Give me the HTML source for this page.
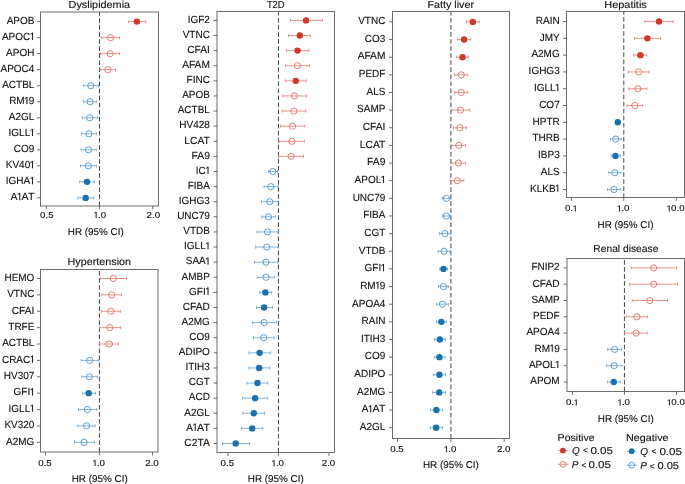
<!DOCTYPE html>
<html><head><meta charset="utf-8"><title>Forest plots</title>
<style>
html,body{margin:0;padding:0;background:#fff;}
body{width:685px;height:484px;overflow:hidden;}
svg{display:block;will-change:transform;font-family:"Liberation Sans", sans-serif;fill:#111111;}
text{fill:#111111;text-rendering:geometricPrecision;stroke:#111;stroke-width:0.12px;}
.g1{fill:#111;stroke:#111;stroke-width:24;}
</style></head><body>
<svg width="685" height="484" viewBox="0 0 685 484">
<rect width="685" height="484" fill="#fff"/>
<text x="99.35" y="7.9" text-anchor="middle" font-size="10.2" textLength="61.5" lengthAdjust="spacingAndGlyphs">Dyslipidemia</text>
<line x1="99.5" y1="12" x2="99.5" y2="206" stroke="#333333" stroke-width="0.9" stroke-dasharray="4.7 2.35" stroke-dashoffset="0.95"/>
<rect x="40.5" y="12" width="118" height="194" fill="none" stroke="#5e5e5e" stroke-width="0.9"/>
<line x1="46.3" y1="206" x2="46.3" y2="209.4" stroke="#5e5e5e" stroke-width="0.9"/>
<text x="40.03" y="217.9" font-size="8.7" textLength="13.55" lengthAdjust="spacingAndGlyphs">0.5</text>
<line x1="99.5" y1="206" x2="99.5" y2="209.4" stroke="#5e5e5e" stroke-width="0.9"/>
<path class="g1" transform="matrix(0.004758 0 0 -0.004248 93.25 217.9)" d="M515 0L515 1237L197 1010L197 1180L530 1409L696 1409L696 0Z"/>
<text x="97.96" y="217.9" font-size="8.7" textLength="8.13" lengthAdjust="spacingAndGlyphs">.0</text>
<line x1="152.8" y1="206" x2="152.8" y2="209.4" stroke="#5e5e5e" stroke-width="0.9"/>
<text x="146.53" y="217.9" font-size="8.7" textLength="13.55" lengthAdjust="spacingAndGlyphs">2.0</text>
<text x="95.8" y="235" text-anchor="middle" font-size="9.9">HR (95% CI)</text>
<line x1="37" y1="21.6" x2="40.5" y2="21.6" stroke="#5e5e5e" stroke-width="0.9"/>
<text x="6.64" y="23.9" font-size="10.3" textLength="27.76" lengthAdjust="spacingAndGlyphs">APOB</text>
<path d="M128.6 21.6H145.7M128.6 20.1V23.1M145.7 20.1V23.1" stroke="#e37a6e" stroke-width="0.8" fill="none"/>
<circle cx="136.9" cy="21.6" r="3.2" fill="#d0382a"/>
<line x1="37" y1="37.63" x2="40.5" y2="37.63" stroke="#5e5e5e" stroke-width="0.9"/>
<text x="1.94" y="39.93" font-size="10.3" textLength="28.31" lengthAdjust="spacingAndGlyphs">APOC</text>
<path class="g1" transform="matrix(0.004878 0 0 -0.005029 29.57 39.93)" d="M515 0L515 1237L197 1010L197 1180L530 1409L696 1409L696 0Z"/>
<path d="M101.6 37.63H119.6M101.6 36.13V39.13M119.6 36.13V39.13" stroke="#e37a6e" stroke-width="0.8" fill="none"/>
<circle cx="110.5" cy="37.63" r="3.1" fill="none" stroke="#e06a5d" stroke-width="0.85"/>
<line x1="37" y1="53.65" x2="40.5" y2="53.65" stroke="#5e5e5e" stroke-width="0.9"/>
<text x="6.09" y="55.95" font-size="10.3" textLength="28.31" lengthAdjust="spacingAndGlyphs">APOH</text>
<path d="M100.6 53.65H119.6M100.6 52.15V55.15M119.6 52.15V55.15" stroke="#e37a6e" stroke-width="0.8" fill="none"/>
<circle cx="110.1" cy="53.65" r="3.1" fill="none" stroke="#e06a5d" stroke-width="0.85"/>
<line x1="37" y1="69.68" x2="40.5" y2="69.68" stroke="#5e5e5e" stroke-width="0.9"/>
<text x="0.53" y="71.98" font-size="10.3" textLength="33.87" lengthAdjust="spacingAndGlyphs">APOC4</text>
<path d="M100.1 69.68H115.5M100.1 68.18V71.18M115.5 68.18V71.18" stroke="#e37a6e" stroke-width="0.8" fill="none"/>
<circle cx="107.9" cy="69.68" r="3.1" fill="none" stroke="#e06a5d" stroke-width="0.85"/>
<line x1="37" y1="85.71" x2="40.5" y2="85.71" stroke="#5e5e5e" stroke-width="0.9"/>
<text x="2.2" y="88.01" font-size="10.3" textLength="32.2" lengthAdjust="spacingAndGlyphs">ACTBL</text>
<path d="M83.3 85.71H98.5M83.3 84.21V87.21M98.5 84.21V87.21" stroke="#62a2d3" stroke-width="0.8" fill="none"/>
<circle cx="90.8" cy="85.71" r="3.1" fill="none" stroke="#4290c8" stroke-width="0.85"/>
<line x1="37" y1="101.74" x2="40.5" y2="101.74" stroke="#5e5e5e" stroke-width="0.9"/>
<text x="9.16" y="104.04" font-size="10.3" textLength="15.54" lengthAdjust="spacingAndGlyphs">RM</text>
<path class="g1" transform="matrix(0.004878 0 0 -0.005029 24.01 104.04)" d="M515 0L515 1237L197 1010L197 1180L530 1409L696 1409L696 0Z"/>
<text x="28.84" y="104.04" font-size="10.3" textLength="5.56" lengthAdjust="spacingAndGlyphs">9</text>
<path d="M83.3 101.74H96.4M83.3 100.24V103.24M96.4 100.24V103.24" stroke="#62a2d3" stroke-width="0.8" fill="none"/>
<circle cx="90.1" cy="101.74" r="3.1" fill="none" stroke="#4290c8" stroke-width="0.85"/>
<line x1="37" y1="117.76" x2="40.5" y2="117.76" stroke="#5e5e5e" stroke-width="0.9"/>
<text x="8.85" y="120.06" font-size="10.3" textLength="25.55" lengthAdjust="spacingAndGlyphs">A2GL</text>
<path d="M82.4 117.76H97.7M82.4 116.26V119.26M97.7 116.26V119.26" stroke="#62a2d3" stroke-width="0.8" fill="none"/>
<circle cx="89.7" cy="117.76" r="3.1" fill="none" stroke="#4290c8" stroke-width="0.85"/>
<line x1="37" y1="133.79" x2="40.5" y2="133.79" stroke="#5e5e5e" stroke-width="0.9"/>
<text x="8.59" y="136.09" font-size="10.3" textLength="21.66" lengthAdjust="spacingAndGlyphs">IGLL</text>
<path class="g1" transform="matrix(0.004878 0 0 -0.005029 29.57 136.09)" d="M515 0L515 1237L197 1010L197 1180L530 1409L696 1409L696 0Z"/>
<path d="M81.5 133.79H96.4M81.5 132.29V135.29M96.4 132.29V135.29" stroke="#62a2d3" stroke-width="0.8" fill="none"/>
<circle cx="89" cy="133.79" r="3.1" fill="none" stroke="#4290c8" stroke-width="0.85"/>
<line x1="37" y1="149.82" x2="40.5" y2="149.82" stroke="#5e5e5e" stroke-width="0.9"/>
<text x="13.86" y="152.12" font-size="10.3" textLength="20.54" lengthAdjust="spacingAndGlyphs">CO9</text>
<path d="M81.2 149.82H96.3M81.2 148.32V151.32M96.3 148.32V151.32" stroke="#62a2d3" stroke-width="0.8" fill="none"/>
<circle cx="88.5" cy="149.82" r="3.1" fill="none" stroke="#4290c8" stroke-width="0.85"/>
<line x1="37" y1="165.85" x2="40.5" y2="165.85" stroke="#5e5e5e" stroke-width="0.9"/>
<text x="5.81" y="168.15" font-size="10.3" textLength="24.44" lengthAdjust="spacingAndGlyphs">KV40</text>
<path class="g1" transform="matrix(0.004878 0 0 -0.005029 29.57 168.15)" d="M515 0L515 1237L197 1010L197 1180L530 1409L696 1409L696 0Z"/>
<path d="M80.5 165.85H96.4M80.5 164.35V167.35M96.4 164.35V167.35" stroke="#62a2d3" stroke-width="0.8" fill="none"/>
<circle cx="88.3" cy="165.85" r="3.1" fill="none" stroke="#4290c8" stroke-width="0.85"/>
<line x1="37" y1="181.87" x2="40.5" y2="181.87" stroke="#5e5e5e" stroke-width="0.9"/>
<text x="5.83" y="184.17" font-size="10.3" textLength="24.43" lengthAdjust="spacingAndGlyphs">IGHA</text>
<path class="g1" transform="matrix(0.004878 0 0 -0.005029 29.57 184.17)" d="M515 0L515 1237L197 1010L197 1180L530 1409L696 1409L696 0Z"/>
<path d="M79.6 181.87H94.6M79.6 180.37V183.37M94.6 180.37V183.37" stroke="#62a2d3" stroke-width="0.8" fill="none"/>
<circle cx="87" cy="181.87" r="3.2" fill="#1b71ae"/>
<line x1="37" y1="197.9" x2="40.5" y2="197.9" stroke="#5e5e5e" stroke-width="0.9"/>
<text x="10.82" y="200.2" font-size="10.3" textLength="6.66" lengthAdjust="spacingAndGlyphs">A</text>
<path class="g1" transform="matrix(0.004878 0 0 -0.005029 16.8 200.2)" d="M515 0L515 1237L197 1010L197 1180L530 1409L696 1409L696 0Z"/>
<text x="21.63" y="200.2" font-size="10.3" textLength="12.77" lengthAdjust="spacingAndGlyphs">AT</text>
<path d="M77.7 197.9H93.9M77.7 196.4V199.4M93.9 196.4V199.4" stroke="#62a2d3" stroke-width="0.8" fill="none"/>
<circle cx="85.7" cy="197.9" r="3.2" fill="#1b71ae"/>
<text x="99.3" y="264.9" text-anchor="middle" font-size="10.2" textLength="63.6" lengthAdjust="spacingAndGlyphs">Hypertension</text>
<line x1="99.45" y1="269.5" x2="99.45" y2="452" stroke="#333333" stroke-width="0.9" stroke-dasharray="4.7 2.35" stroke-dashoffset="5.55"/>
<rect x="40.5" y="269.5" width="117.5" height="182.5" fill="none" stroke="#5e5e5e" stroke-width="0.9"/>
<line x1="45.5" y1="452" x2="45.5" y2="455.4" stroke="#5e5e5e" stroke-width="0.9"/>
<text x="38.23" y="466" font-size="8.7" textLength="13.55" lengthAdjust="spacingAndGlyphs">0.5</text>
<line x1="99.45" y1="452" x2="99.45" y2="455.4" stroke="#5e5e5e" stroke-width="0.9"/>
<path class="g1" transform="matrix(0.004758 0 0 -0.004248 92.2 466)" d="M515 0L515 1237L197 1010L197 1180L530 1409L696 1409L696 0Z"/>
<text x="96.91" y="466" font-size="8.7" textLength="8.13" lengthAdjust="spacingAndGlyphs">.0</text>
<line x1="152.5" y1="452" x2="152.5" y2="455.4" stroke="#5e5e5e" stroke-width="0.9"/>
<text x="145.23" y="466" font-size="8.7" textLength="13.55" lengthAdjust="spacingAndGlyphs">2.0</text>
<text x="99.7" y="481.6" text-anchor="middle" font-size="9.9">HR (95% CI)</text>
<line x1="37" y1="278.5" x2="40.5" y2="278.5" stroke="#5e5e5e" stroke-width="0.9"/>
<text x="4.43" y="280.8" font-size="10.3" textLength="29.97" lengthAdjust="spacingAndGlyphs">HEMO</text>
<path d="M100.3 278.5H126.6M100.3 277V280M126.6 277V280" stroke="#e37a6e" stroke-width="0.8" fill="none"/>
<circle cx="113.3" cy="278.5" r="3.1" fill="none" stroke="#e06a5d" stroke-width="0.85"/>
<line x1="37" y1="294.88" x2="40.5" y2="294.88" stroke="#5e5e5e" stroke-width="0.9"/>
<text x="7.2" y="297.18" font-size="10.3" textLength="27.2" lengthAdjust="spacingAndGlyphs">VTNC</text>
<path d="M101.7 294.88H121.4M101.7 293.38V296.38M121.4 293.38V296.38" stroke="#e37a6e" stroke-width="0.8" fill="none"/>
<circle cx="111.6" cy="294.88" r="3.1" fill="none" stroke="#e06a5d" stroke-width="0.85"/>
<line x1="37" y1="311.26" x2="40.5" y2="311.26" stroke="#5e5e5e" stroke-width="0.9"/>
<text x="11.64" y="313.56" font-size="10.3" textLength="22.76" lengthAdjust="spacingAndGlyphs">CFAI</text>
<path d="M101.3 311.26H120.6M101.3 309.76V312.76M120.6 309.76V312.76" stroke="#e37a6e" stroke-width="0.8" fill="none"/>
<circle cx="110.9" cy="311.26" r="3.1" fill="none" stroke="#e06a5d" stroke-width="0.85"/>
<line x1="37" y1="327.64" x2="40.5" y2="327.64" stroke="#5e5e5e" stroke-width="0.9"/>
<text x="8.32" y="329.94" font-size="10.3" textLength="26.08" lengthAdjust="spacingAndGlyphs">TRFE</text>
<path d="M99.6 327.64H120.6M99.6 326.14V329.14M120.6 326.14V329.14" stroke="#e37a6e" stroke-width="0.8" fill="none"/>
<circle cx="109.7" cy="327.64" r="3.1" fill="none" stroke="#e06a5d" stroke-width="0.85"/>
<line x1="37" y1="344.02" x2="40.5" y2="344.02" stroke="#5e5e5e" stroke-width="0.9"/>
<text x="2.2" y="346.32" font-size="10.3" textLength="32.2" lengthAdjust="spacingAndGlyphs">ACTBL</text>
<path d="M99.5 344.02H118.5M99.5 342.52V345.52M118.5 342.52V345.52" stroke="#e37a6e" stroke-width="0.8" fill="none"/>
<circle cx="109.3" cy="344.02" r="3.1" fill="none" stroke="#e06a5d" stroke-width="0.85"/>
<line x1="37" y1="360.4" x2="40.5" y2="360.4" stroke="#5e5e5e" stroke-width="0.9"/>
<text x="1.94" y="362.7" font-size="10.3" textLength="28.31" lengthAdjust="spacingAndGlyphs">CRAC</text>
<path class="g1" transform="matrix(0.004878 0 0 -0.005029 29.57 362.7)" d="M515 0L515 1237L197 1010L197 1180L530 1409L696 1409L696 0Z"/>
<path d="M81.2 360.4H98.8M81.2 358.9V361.9M98.8 358.9V361.9" stroke="#62a2d3" stroke-width="0.8" fill="none"/>
<circle cx="89.7" cy="360.4" r="3.1" fill="none" stroke="#4290c8" stroke-width="0.85"/>
<line x1="37" y1="376.78" x2="40.5" y2="376.78" stroke="#5e5e5e" stroke-width="0.9"/>
<text x="3.85" y="379.08" font-size="10.3" textLength="30.55" lengthAdjust="spacingAndGlyphs">HV307</text>
<path d="M81.9 376.78H97.4M81.9 375.28V378.28M97.4 375.28V378.28" stroke="#62a2d3" stroke-width="0.8" fill="none"/>
<circle cx="89.4" cy="376.78" r="3.1" fill="none" stroke="#4290c8" stroke-width="0.85"/>
<line x1="37" y1="393.16" x2="40.5" y2="393.16" stroke="#5e5e5e" stroke-width="0.9"/>
<text x="13.6" y="395.46" font-size="10.3" textLength="16.65" lengthAdjust="spacingAndGlyphs">GFI</text>
<path class="g1" transform="matrix(0.004878 0 0 -0.005029 29.57 395.46)" d="M515 0L515 1237L197 1010L197 1180L530 1409L696 1409L696 0Z"/>
<path d="M82.4 393.16H95.6M82.4 391.66V394.66M95.6 391.66V394.66" stroke="#62a2d3" stroke-width="0.8" fill="none"/>
<circle cx="88.7" cy="393.16" r="3.2" fill="#1b71ae"/>
<line x1="37" y1="409.54" x2="40.5" y2="409.54" stroke="#5e5e5e" stroke-width="0.9"/>
<text x="8.59" y="411.84" font-size="10.3" textLength="21.66" lengthAdjust="spacingAndGlyphs">IGLL</text>
<path class="g1" transform="matrix(0.004878 0 0 -0.005029 29.57 411.84)" d="M515 0L515 1237L197 1010L197 1180L530 1409L696 1409L696 0Z"/>
<path d="M78.5 409.54H96.7M78.5 408.04V411.04M96.7 408.04V411.04" stroke="#62a2d3" stroke-width="0.8" fill="none"/>
<circle cx="87.4" cy="409.54" r="3.1" fill="none" stroke="#4290c8" stroke-width="0.85"/>
<line x1="37" y1="425.92" x2="40.5" y2="425.92" stroke="#5e5e5e" stroke-width="0.9"/>
<text x="4.4" y="428.22" font-size="10.3" textLength="30" lengthAdjust="spacingAndGlyphs">KV320</text>
<path d="M77.7 425.92H95.1M77.7 424.42V427.42M95.1 424.42V427.42" stroke="#62a2d3" stroke-width="0.8" fill="none"/>
<circle cx="86.5" cy="425.92" r="3.1" fill="none" stroke="#4290c8" stroke-width="0.85"/>
<line x1="37" y1="442.3" x2="40.5" y2="442.3" stroke="#5e5e5e" stroke-width="0.9"/>
<text x="6.09" y="444.6" font-size="10.3" textLength="28.31" lengthAdjust="spacingAndGlyphs">A2MG</text>
<path d="M74.5 442.3H94.4M74.5 440.8V443.8M94.4 440.8V443.8" stroke="#62a2d3" stroke-width="0.8" fill="none"/>
<circle cx="84.1" cy="442.3" r="3.1" fill="none" stroke="#4290c8" stroke-width="0.85"/>
<text x="275.75" y="7.9" text-anchor="middle" font-size="10.2" textLength="17.7" lengthAdjust="spacingAndGlyphs">T2D</text>
<line x1="278.45" y1="11.5" x2="278.45" y2="452.5" stroke="#333333" stroke-width="0.9" stroke-dasharray="4.7 2.35" stroke-dashoffset="0.65"/>
<rect x="217" y="11.5" width="117.5" height="441" fill="none" stroke="#5e5e5e" stroke-width="0.9"/>
<line x1="227.9" y1="452.5" x2="227.9" y2="455.9" stroke="#5e5e5e" stroke-width="0.9"/>
<text x="220.63" y="466.2" font-size="8.7" textLength="13.55" lengthAdjust="spacingAndGlyphs">0.5</text>
<line x1="278.45" y1="452.5" x2="278.45" y2="455.9" stroke="#5e5e5e" stroke-width="0.9"/>
<path class="g1" transform="matrix(0.004758 0 0 -0.004248 271.2 466.2)" d="M515 0L515 1237L197 1010L197 1180L530 1409L696 1409L696 0Z"/>
<text x="275.91" y="466.2" font-size="8.7" textLength="8.13" lengthAdjust="spacingAndGlyphs">.0</text>
<line x1="329" y1="452.5" x2="329" y2="455.9" stroke="#5e5e5e" stroke-width="0.9"/>
<text x="321.73" y="466.2" font-size="8.7" textLength="13.55" lengthAdjust="spacingAndGlyphs">2.0</text>
<text x="275.8" y="481.7" text-anchor="middle" font-size="9.9">HR (95% CI)</text>
<line x1="213.5" y1="20.4" x2="217" y2="20.4" stroke="#5e5e5e" stroke-width="0.9"/>
<text x="187.69" y="22.7" font-size="10.3" textLength="22.21" lengthAdjust="spacingAndGlyphs">IGF2</text>
<path d="M290.4 20.4H322.4M290.4 18.9V21.9M322.4 18.9V21.9" stroke="#e37a6e" stroke-width="0.8" fill="none"/>
<circle cx="306" cy="20.4" r="3.2" fill="#d0382a"/>
<line x1="213.5" y1="35.51" x2="217" y2="35.51" stroke="#5e5e5e" stroke-width="0.9"/>
<text x="182.7" y="37.81" font-size="10.3" textLength="27.2" lengthAdjust="spacingAndGlyphs">VTNC</text>
<path d="M288.5 35.51H310.3M288.5 34.01V37.01M310.3 34.01V37.01" stroke="#e37a6e" stroke-width="0.8" fill="none"/>
<circle cx="299.8" cy="35.51" r="3.2" fill="#d0382a"/>
<line x1="213.5" y1="50.62" x2="217" y2="50.62" stroke="#5e5e5e" stroke-width="0.9"/>
<text x="187.14" y="52.92" font-size="10.3" textLength="22.76" lengthAdjust="spacingAndGlyphs">CFAI</text>
<path d="M286.4 50.62H308.7M286.4 49.12V52.12M308.7 49.12V52.12" stroke="#e37a6e" stroke-width="0.8" fill="none"/>
<circle cx="297.5" cy="50.62" r="3.2" fill="#d0382a"/>
<line x1="213.5" y1="65.73" x2="217" y2="65.73" stroke="#5e5e5e" stroke-width="0.9"/>
<text x="182.15" y="68.03" font-size="10.3" textLength="27.75" lengthAdjust="spacingAndGlyphs">AFAM</text>
<path d="M285.4 65.73H309.6M285.4 64.23V67.23M309.6 64.23V67.23" stroke="#e37a6e" stroke-width="0.8" fill="none"/>
<circle cx="297.5" cy="65.73" r="3.1" fill="none" stroke="#e06a5d" stroke-width="0.85"/>
<line x1="213.5" y1="80.84" x2="217" y2="80.84" stroke="#5e5e5e" stroke-width="0.9"/>
<text x="186.59" y="83.14" font-size="10.3" textLength="23.31" lengthAdjust="spacingAndGlyphs">FINC</text>
<path d="M285.4 80.84H306.3M285.4 79.34V82.34M306.3 79.34V82.34" stroke="#e37a6e" stroke-width="0.8" fill="none"/>
<circle cx="295.8" cy="80.84" r="3.2" fill="#d0382a"/>
<line x1="213.5" y1="95.95" x2="217" y2="95.95" stroke="#5e5e5e" stroke-width="0.9"/>
<text x="182.14" y="98.25" font-size="10.3" textLength="27.76" lengthAdjust="spacingAndGlyphs">APOB</text>
<path d="M282.8 95.95H306.5M282.8 94.45V97.45M306.5 94.45V97.45" stroke="#e37a6e" stroke-width="0.8" fill="none"/>
<circle cx="294.4" cy="95.95" r="3.1" fill="none" stroke="#e06a5d" stroke-width="0.85"/>
<line x1="213.5" y1="111.06" x2="217" y2="111.06" stroke="#5e5e5e" stroke-width="0.9"/>
<text x="177.7" y="113.36" font-size="10.3" textLength="32.2" lengthAdjust="spacingAndGlyphs">ACTBL</text>
<path d="M282.4 111.06H305.7M282.4 109.56V112.56M305.7 109.56V112.56" stroke="#e37a6e" stroke-width="0.8" fill="none"/>
<circle cx="293.9" cy="111.06" r="3.1" fill="none" stroke="#e06a5d" stroke-width="0.85"/>
<line x1="213.5" y1="126.18" x2="217" y2="126.18" stroke="#5e5e5e" stroke-width="0.9"/>
<text x="179.35" y="128.48" font-size="10.3" textLength="30.55" lengthAdjust="spacingAndGlyphs">HV428</text>
<path d="M280.5 126.18H304.9M280.5 124.68V127.68M304.9 124.68V127.68" stroke="#e37a6e" stroke-width="0.8" fill="none"/>
<circle cx="292.6" cy="126.18" r="3.1" fill="none" stroke="#e06a5d" stroke-width="0.85"/>
<line x1="213.5" y1="141.29" x2="217" y2="141.29" stroke="#5e5e5e" stroke-width="0.9"/>
<text x="184.36" y="143.59" font-size="10.3" textLength="25.54" lengthAdjust="spacingAndGlyphs">LCAT</text>
<path d="M278.9 141.29H304.4M278.9 139.79V142.79M304.4 139.79V142.79" stroke="#e37a6e" stroke-width="0.8" fill="none"/>
<circle cx="291.9" cy="141.29" r="3.1" fill="none" stroke="#e06a5d" stroke-width="0.85"/>
<line x1="213.5" y1="156.4" x2="217" y2="156.4" stroke="#5e5e5e" stroke-width="0.9"/>
<text x="191.58" y="158.7" font-size="10.3" textLength="18.32" lengthAdjust="spacingAndGlyphs">FA9</text>
<path d="M278.5 156.4H303.5M278.5 154.9V157.9M303.5 154.9V157.9" stroke="#e37a6e" stroke-width="0.8" fill="none"/>
<circle cx="291.1" cy="156.4" r="3.1" fill="none" stroke="#e06a5d" stroke-width="0.85"/>
<line x1="213.5" y1="171.51" x2="217" y2="171.51" stroke="#5e5e5e" stroke-width="0.9"/>
<text x="195.76" y="173.81" font-size="10.3" textLength="9.99" lengthAdjust="spacingAndGlyphs">IC</text>
<path class="g1" transform="matrix(0.004878 0 0 -0.005029 205.07 173.81)" d="M515 0L515 1237L197 1010L197 1180L530 1409L696 1409L696 0Z"/>
<path d="M268.5 171.51H277.5M268.5 170.01V173.01M277.5 170.01V173.01" stroke="#62a2d3" stroke-width="0.8" fill="none"/>
<circle cx="272.8" cy="171.51" r="3.1" fill="none" stroke="#4290c8" stroke-width="0.85"/>
<line x1="213.5" y1="186.62" x2="217" y2="186.62" stroke="#5e5e5e" stroke-width="0.9"/>
<text x="187.69" y="188.92" font-size="10.3" textLength="22.21" lengthAdjust="spacingAndGlyphs">FIBA</text>
<path d="M264.1 186.62H278.2M264.1 185.12V188.12M278.2 185.12V188.12" stroke="#62a2d3" stroke-width="0.8" fill="none"/>
<circle cx="270.8" cy="186.62" r="3.1" fill="none" stroke="#4290c8" stroke-width="0.85"/>
<line x1="213.5" y1="201.73" x2="217" y2="201.73" stroke="#5e5e5e" stroke-width="0.9"/>
<text x="178.81" y="204.03" font-size="10.3" textLength="31.09" lengthAdjust="spacingAndGlyphs">IGHG3</text>
<path d="M261.6 201.73H278.3M261.6 200.23V203.23M278.3 200.23V203.23" stroke="#62a2d3" stroke-width="0.8" fill="none"/>
<circle cx="269.8" cy="201.73" r="3.1" fill="none" stroke="#4290c8" stroke-width="0.85"/>
<line x1="213.5" y1="216.84" x2="217" y2="216.84" stroke="#5e5e5e" stroke-width="0.9"/>
<text x="177.14" y="219.14" font-size="10.3" textLength="32.76" lengthAdjust="spacingAndGlyphs">UNC79</text>
<path d="M261.8 216.84H275.4M261.8 215.34V218.34M275.4 215.34V218.34" stroke="#62a2d3" stroke-width="0.8" fill="none"/>
<circle cx="268.4" cy="216.84" r="3.1" fill="none" stroke="#4290c8" stroke-width="0.85"/>
<line x1="213.5" y1="231.95" x2="217" y2="231.95" stroke="#5e5e5e" stroke-width="0.9"/>
<text x="183.25" y="234.25" font-size="10.3" textLength="26.65" lengthAdjust="spacingAndGlyphs">VTDB</text>
<path d="M257.2 231.95H278.3M257.2 230.45V233.45M278.3 230.45V233.45" stroke="#62a2d3" stroke-width="0.8" fill="none"/>
<circle cx="267.5" cy="231.95" r="3.1" fill="none" stroke="#4290c8" stroke-width="0.85"/>
<line x1="213.5" y1="247.06" x2="217" y2="247.06" stroke="#5e5e5e" stroke-width="0.9"/>
<text x="184.09" y="249.36" font-size="10.3" textLength="21.66" lengthAdjust="spacingAndGlyphs">IGLL</text>
<path class="g1" transform="matrix(0.004878 0 0 -0.005029 205.07 249.36)" d="M515 0L515 1237L197 1010L197 1180L530 1409L696 1409L696 0Z"/>
<path d="M255.6 247.06H278.3M255.6 245.56V248.56M278.3 245.56V248.56" stroke="#62a2d3" stroke-width="0.8" fill="none"/>
<circle cx="266.8" cy="247.06" r="3.1" fill="none" stroke="#4290c8" stroke-width="0.85"/>
<line x1="213.5" y1="262.17" x2="217" y2="262.17" stroke="#5e5e5e" stroke-width="0.9"/>
<text x="185.76" y="264.47" font-size="10.3" textLength="19.99" lengthAdjust="spacingAndGlyphs">SAA</text>
<path class="g1" transform="matrix(0.004878 0 0 -0.005029 205.07 264.47)" d="M515 0L515 1237L197 1010L197 1180L530 1409L696 1409L696 0Z"/>
<path d="M254.5 262.17H277.7M254.5 260.67V263.67M277.7 260.67V263.67" stroke="#62a2d3" stroke-width="0.8" fill="none"/>
<circle cx="266" cy="262.17" r="3.1" fill="none" stroke="#4290c8" stroke-width="0.85"/>
<line x1="213.5" y1="277.28" x2="217" y2="277.28" stroke="#5e5e5e" stroke-width="0.9"/>
<text x="181.59" y="279.58" font-size="10.3" textLength="28.31" lengthAdjust="spacingAndGlyphs">AMBP</text>
<path d="M257.2 277.28H274.6M257.2 275.78V278.78M274.6 275.78V278.78" stroke="#62a2d3" stroke-width="0.8" fill="none"/>
<circle cx="266" cy="277.28" r="3.1" fill="none" stroke="#4290c8" stroke-width="0.85"/>
<line x1="213.5" y1="292.39" x2="217" y2="292.39" stroke="#5e5e5e" stroke-width="0.9"/>
<text x="189.1" y="294.69" font-size="10.3" textLength="16.65" lengthAdjust="spacingAndGlyphs">GFI</text>
<path class="g1" transform="matrix(0.004878 0 0 -0.005029 205.07 294.69)" d="M515 0L515 1237L197 1010L197 1180L530 1409L696 1409L696 0Z"/>
<path d="M259.6 292.39H271.7M259.6 290.89V293.89M271.7 290.89V293.89" stroke="#62a2d3" stroke-width="0.8" fill="none"/>
<circle cx="265.4" cy="292.39" r="3.2" fill="#1b71ae"/>
<line x1="213.5" y1="307.5" x2="217" y2="307.5" stroke="#5e5e5e" stroke-width="0.9"/>
<text x="182.7" y="309.8" font-size="10.3" textLength="27.2" lengthAdjust="spacingAndGlyphs">CFAD</text>
<path d="M256.5 307.5H272.4M256.5 306V309M272.4 306V309" stroke="#62a2d3" stroke-width="0.8" fill="none"/>
<circle cx="264.1" cy="307.5" r="3.2" fill="#1b71ae"/>
<line x1="213.5" y1="322.61" x2="217" y2="322.61" stroke="#5e5e5e" stroke-width="0.9"/>
<text x="181.59" y="324.91" font-size="10.3" textLength="28.31" lengthAdjust="spacingAndGlyphs">A2MG</text>
<path d="M252.6 322.61H276.4M252.6 321.11V324.11M276.4 321.11V324.11" stroke="#62a2d3" stroke-width="0.8" fill="none"/>
<circle cx="264.2" cy="322.61" r="3.1" fill="none" stroke="#4290c8" stroke-width="0.85"/>
<line x1="213.5" y1="337.72" x2="217" y2="337.72" stroke="#5e5e5e" stroke-width="0.9"/>
<text x="189.36" y="340.02" font-size="10.3" textLength="20.54" lengthAdjust="spacingAndGlyphs">CO9</text>
<path d="M253.5 337.72H274.1M253.5 336.22V339.22M274.1 336.22V339.22" stroke="#62a2d3" stroke-width="0.8" fill="none"/>
<circle cx="263.8" cy="337.72" r="3.1" fill="none" stroke="#4290c8" stroke-width="0.85"/>
<line x1="213.5" y1="352.84" x2="217" y2="352.84" stroke="#5e5e5e" stroke-width="0.9"/>
<text x="178.81" y="355.14" font-size="10.3" textLength="31.09" lengthAdjust="spacingAndGlyphs">ADIPO</text>
<path d="M249 352.84H270.7M249 351.34V354.34M270.7 351.34V354.34" stroke="#62a2d3" stroke-width="0.8" fill="none"/>
<circle cx="259.6" cy="352.84" r="3.2" fill="#1b71ae"/>
<line x1="213.5" y1="367.95" x2="217" y2="367.95" stroke="#5e5e5e" stroke-width="0.9"/>
<text x="185.47" y="370.25" font-size="10.3" textLength="24.43" lengthAdjust="spacingAndGlyphs">ITIH3</text>
<path d="M249 367.95H269.8M249 366.45V369.45M269.8 366.45V369.45" stroke="#62a2d3" stroke-width="0.8" fill="none"/>
<circle cx="259.2" cy="367.95" r="3.2" fill="#1b71ae"/>
<line x1="213.5" y1="383.06" x2="217" y2="383.06" stroke="#5e5e5e" stroke-width="0.9"/>
<text x="188.81" y="385.36" font-size="10.3" textLength="21.09" lengthAdjust="spacingAndGlyphs">CGT</text>
<path d="M246.9 383.06H267.7M246.9 381.56V384.56M267.7 381.56V384.56" stroke="#62a2d3" stroke-width="0.8" fill="none"/>
<circle cx="257.4" cy="383.06" r="3.2" fill="#1b71ae"/>
<line x1="213.5" y1="398.17" x2="217" y2="398.17" stroke="#5e5e5e" stroke-width="0.9"/>
<text x="188.81" y="400.47" font-size="10.3" textLength="21.09" lengthAdjust="spacingAndGlyphs">ACD</text>
<path d="M242.6 398.17H267.7M242.6 396.67V399.67M267.7 396.67V399.67" stroke="#62a2d3" stroke-width="0.8" fill="none"/>
<circle cx="255.1" cy="398.17" r="3.2" fill="#1b71ae"/>
<line x1="213.5" y1="413.28" x2="217" y2="413.28" stroke="#5e5e5e" stroke-width="0.9"/>
<text x="184.35" y="415.58" font-size="10.3" textLength="25.55" lengthAdjust="spacingAndGlyphs">A2GL</text>
<path d="M242.8 413.28H264.6M242.8 411.78V414.78M264.6 411.78V414.78" stroke="#62a2d3" stroke-width="0.8" fill="none"/>
<circle cx="253.8" cy="413.28" r="3.2" fill="#1b71ae"/>
<line x1="213.5" y1="428.39" x2="217" y2="428.39" stroke="#5e5e5e" stroke-width="0.9"/>
<text x="186.32" y="430.69" font-size="10.3" textLength="6.66" lengthAdjust="spacingAndGlyphs">A</text>
<path class="g1" transform="matrix(0.004878 0 0 -0.005029 192.3 430.69)" d="M515 0L515 1237L197 1010L197 1180L530 1409L696 1409L696 0Z"/>
<text x="197.13" y="430.69" font-size="10.3" textLength="12.77" lengthAdjust="spacingAndGlyphs">AT</text>
<path d="M241.6 428.39H262.8M241.6 426.89V429.89M262.8 426.89V429.89" stroke="#62a2d3" stroke-width="0.8" fill="none"/>
<circle cx="252.2" cy="428.39" r="3.2" fill="#1b71ae"/>
<line x1="213.5" y1="443.5" x2="217" y2="443.5" stroke="#5e5e5e" stroke-width="0.9"/>
<text x="184.36" y="445.8" font-size="10.3" textLength="25.54" lengthAdjust="spacingAndGlyphs">C2TA</text>
<path d="M222.5 443.5H249.5M222.5 442V445M249.5 442V445" stroke="#62a2d3" stroke-width="0.8" fill="none"/>
<circle cx="235.7" cy="443.5" r="3.2" fill="#1b71ae"/>
<text x="450.75" y="7.7" text-anchor="middle" font-size="10.2" textLength="46.5" lengthAdjust="spacingAndGlyphs">Fatty liver</text>
<line x1="450.9" y1="11.5" x2="450.9" y2="438.5" stroke="#333333" stroke-width="0.9" stroke-dasharray="4.7 2.35" stroke-dashoffset="0.6"/>
<rect x="392.5" y="11.5" width="117" height="427" fill="none" stroke="#5e5e5e" stroke-width="0.9"/>
<line x1="397.5" y1="438.5" x2="397.5" y2="441.9" stroke="#5e5e5e" stroke-width="0.9"/>
<text x="390.23" y="452.2" font-size="8.7" textLength="13.55" lengthAdjust="spacingAndGlyphs">0.5</text>
<line x1="450.9" y1="438.5" x2="450.9" y2="441.9" stroke="#5e5e5e" stroke-width="0.9"/>
<path class="g1" transform="matrix(0.004758 0 0 -0.004248 443.65 452.2)" d="M515 0L515 1237L197 1010L197 1180L530 1409L696 1409L696 0Z"/>
<text x="448.36" y="452.2" font-size="8.7" textLength="8.13" lengthAdjust="spacingAndGlyphs">.0</text>
<line x1="504.2" y1="438.5" x2="504.2" y2="441.9" stroke="#5e5e5e" stroke-width="0.9"/>
<text x="496.93" y="452.2" font-size="8.7" textLength="13.55" lengthAdjust="spacingAndGlyphs">2.0</text>
<text x="450.9" y="467.6" text-anchor="middle" font-size="9.9">HR (95% CI)</text>
<line x1="389" y1="21.9" x2="392.5" y2="21.9" stroke="#5e5e5e" stroke-width="0.9"/>
<text x="358.2" y="24.2" font-size="10.3" textLength="27.2" lengthAdjust="spacingAndGlyphs">VTNC</text>
<path d="M466.4 21.9H479.4M466.4 20.4V23.4M479.4 20.4V23.4" stroke="#e37a6e" stroke-width="0.8" fill="none"/>
<circle cx="472.8" cy="21.9" r="3.2" fill="#d0382a"/>
<line x1="389" y1="39.54" x2="392.5" y2="39.54" stroke="#5e5e5e" stroke-width="0.9"/>
<text x="364.86" y="41.84" font-size="10.3" textLength="20.54" lengthAdjust="spacingAndGlyphs">CO3</text>
<path d="M457.5 39.54H470.7M457.5 38.04V41.04M470.7 38.04V41.04" stroke="#e37a6e" stroke-width="0.8" fill="none"/>
<circle cx="464.1" cy="39.54" r="3.2" fill="#d0382a"/>
<line x1="389" y1="57.19" x2="392.5" y2="57.19" stroke="#5e5e5e" stroke-width="0.9"/>
<text x="357.65" y="59.49" font-size="10.3" textLength="27.75" lengthAdjust="spacingAndGlyphs">AFAM</text>
<path d="M456.3 57.19H468.4M456.3 55.69V58.69M468.4 55.69V58.69" stroke="#e37a6e" stroke-width="0.8" fill="none"/>
<circle cx="462.5" cy="57.19" r="3.2" fill="#d0382a"/>
<line x1="389" y1="74.83" x2="392.5" y2="74.83" stroke="#5e5e5e" stroke-width="0.9"/>
<text x="358.75" y="77.13" font-size="10.3" textLength="26.65" lengthAdjust="spacingAndGlyphs">PEDF</text>
<path d="M454.3 74.83H467.8M454.3 73.33V76.33M467.8 73.33V76.33" stroke="#e37a6e" stroke-width="0.8" fill="none"/>
<circle cx="461.2" cy="74.83" r="3.1" fill="none" stroke="#e06a5d" stroke-width="0.85"/>
<line x1="389" y1="92.47" x2="392.5" y2="92.47" stroke="#5e5e5e" stroke-width="0.9"/>
<text x="366.52" y="94.77" font-size="10.3" textLength="18.88" lengthAdjust="spacingAndGlyphs">ALS</text>
<path d="M454.3 92.47H467.8M454.3 90.97V93.97M467.8 90.97V93.97" stroke="#e37a6e" stroke-width="0.8" fill="none"/>
<circle cx="461.2" cy="92.47" r="3.1" fill="none" stroke="#e06a5d" stroke-width="0.85"/>
<line x1="389" y1="110.12" x2="392.5" y2="110.12" stroke="#5e5e5e" stroke-width="0.9"/>
<text x="357.09" y="112.42" font-size="10.3" textLength="28.31" lengthAdjust="spacingAndGlyphs">SAMP</text>
<path d="M451.9 110.12H469.8M451.9 108.62V111.62M469.8 108.62V111.62" stroke="#e37a6e" stroke-width="0.8" fill="none"/>
<circle cx="460.5" cy="110.12" r="3.1" fill="none" stroke="#e06a5d" stroke-width="0.85"/>
<line x1="389" y1="127.76" x2="392.5" y2="127.76" stroke="#5e5e5e" stroke-width="0.9"/>
<text x="362.64" y="130.06" font-size="10.3" textLength="22.76" lengthAdjust="spacingAndGlyphs">CFAI</text>
<path d="M453.5 127.76H466.4M453.5 126.26V129.26M466.4 126.26V129.26" stroke="#e37a6e" stroke-width="0.8" fill="none"/>
<circle cx="459.8" cy="127.76" r="3.1" fill="none" stroke="#e06a5d" stroke-width="0.85"/>
<line x1="389" y1="145.4" x2="392.5" y2="145.4" stroke="#5e5e5e" stroke-width="0.9"/>
<text x="359.86" y="147.7" font-size="10.3" textLength="25.54" lengthAdjust="spacingAndGlyphs">LCAT</text>
<path d="M451.2 145.4H465.5M451.2 143.9V146.9M465.5 143.9V146.9" stroke="#e37a6e" stroke-width="0.8" fill="none"/>
<circle cx="458.8" cy="145.4" r="3.1" fill="none" stroke="#e06a5d" stroke-width="0.85"/>
<line x1="389" y1="163.05" x2="392.5" y2="163.05" stroke="#5e5e5e" stroke-width="0.9"/>
<text x="367.08" y="165.35" font-size="10.3" textLength="18.32" lengthAdjust="spacingAndGlyphs">FA9</text>
<path d="M451.2 163.05H465.5M451.2 161.55V164.55M465.5 161.55V164.55" stroke="#e37a6e" stroke-width="0.8" fill="none"/>
<circle cx="458.5" cy="163.05" r="3.1" fill="none" stroke="#e06a5d" stroke-width="0.85"/>
<line x1="389" y1="180.69" x2="392.5" y2="180.69" stroke="#5e5e5e" stroke-width="0.9"/>
<text x="354.6" y="182.99" font-size="10.3" textLength="26.66" lengthAdjust="spacingAndGlyphs">APOL</text>
<path class="g1" transform="matrix(0.004878 0 0 -0.005029 380.57 182.99)" d="M515 0L515 1237L197 1010L197 1180L530 1409L696 1409L696 0Z"/>
<path d="M450.8 180.69H463.8M450.8 179.19V182.19M463.8 179.19V182.19" stroke="#e37a6e" stroke-width="0.8" fill="none"/>
<circle cx="457.2" cy="180.69" r="3.1" fill="none" stroke="#e06a5d" stroke-width="0.85"/>
<line x1="389" y1="198.33" x2="392.5" y2="198.33" stroke="#5e5e5e" stroke-width="0.9"/>
<text x="352.64" y="200.63" font-size="10.3" textLength="32.76" lengthAdjust="spacingAndGlyphs">UNC79</text>
<path d="M442.2 198.33H450.7M442.2 196.83V199.83M450.7 196.83V199.83" stroke="#62a2d3" stroke-width="0.8" fill="none"/>
<circle cx="446.4" cy="198.33" r="3.1" fill="none" stroke="#4290c8" stroke-width="0.85"/>
<line x1="389" y1="215.98" x2="392.5" y2="215.98" stroke="#5e5e5e" stroke-width="0.9"/>
<text x="363.19" y="218.28" font-size="10.3" textLength="22.21" lengthAdjust="spacingAndGlyphs">FIBA</text>
<path d="M442.5 215.98H450.4M442.5 214.48V217.48M450.4 214.48V217.48" stroke="#62a2d3" stroke-width="0.8" fill="none"/>
<circle cx="446.4" cy="215.98" r="3.1" fill="none" stroke="#4290c8" stroke-width="0.85"/>
<line x1="389" y1="233.62" x2="392.5" y2="233.62" stroke="#5e5e5e" stroke-width="0.9"/>
<text x="364.31" y="235.92" font-size="10.3" textLength="21.09" lengthAdjust="spacingAndGlyphs">CGT</text>
<path d="M439.6 233.62H450.4M439.6 232.12V235.12M450.4 232.12V235.12" stroke="#62a2d3" stroke-width="0.8" fill="none"/>
<circle cx="444.9" cy="233.62" r="3.1" fill="none" stroke="#4290c8" stroke-width="0.85"/>
<line x1="389" y1="251.27" x2="392.5" y2="251.27" stroke="#5e5e5e" stroke-width="0.9"/>
<text x="358.75" y="253.57" font-size="10.3" textLength="26.65" lengthAdjust="spacingAndGlyphs">VTDB</text>
<path d="M438.2 251.27H450.1M438.2 249.77V252.77M450.1 249.77V252.77" stroke="#62a2d3" stroke-width="0.8" fill="none"/>
<circle cx="444.1" cy="251.27" r="3.1" fill="none" stroke="#4290c8" stroke-width="0.85"/>
<line x1="389" y1="268.91" x2="392.5" y2="268.91" stroke="#5e5e5e" stroke-width="0.9"/>
<text x="364.6" y="271.21" font-size="10.3" textLength="16.65" lengthAdjust="spacingAndGlyphs">GFI</text>
<path class="g1" transform="matrix(0.004878 0 0 -0.005029 380.57 271.21)" d="M515 0L515 1237L197 1010L197 1180L530 1409L696 1409L696 0Z"/>
<path d="M439.6 268.91H447.5M439.6 267.41V270.41M447.5 267.41V270.41" stroke="#62a2d3" stroke-width="0.8" fill="none"/>
<circle cx="443.5" cy="268.91" r="3.2" fill="#1b71ae"/>
<line x1="389" y1="286.55" x2="392.5" y2="286.55" stroke="#5e5e5e" stroke-width="0.9"/>
<text x="360.16" y="288.85" font-size="10.3" textLength="15.54" lengthAdjust="spacingAndGlyphs">RM</text>
<path class="g1" transform="matrix(0.004878 0 0 -0.005029 375.01 288.85)" d="M515 0L515 1237L197 1010L197 1180L530 1409L696 1409L696 0Z"/>
<text x="379.84" y="288.85" font-size="10.3" textLength="5.56" lengthAdjust="spacingAndGlyphs">9</text>
<path d="M438.5 286.55H448.4M438.5 285.05V288.05M448.4 285.05V288.05" stroke="#62a2d3" stroke-width="0.8" fill="none"/>
<circle cx="443.5" cy="286.55" r="3.1" fill="none" stroke="#4290c8" stroke-width="0.85"/>
<line x1="389" y1="304.2" x2="392.5" y2="304.2" stroke="#5e5e5e" stroke-width="0.9"/>
<text x="352.08" y="306.5" font-size="10.3" textLength="33.32" lengthAdjust="spacingAndGlyphs">APOA4</text>
<path d="M436.5 304.2H448.4M436.5 302.7V305.7M448.4 302.7V305.7" stroke="#62a2d3" stroke-width="0.8" fill="none"/>
<circle cx="442.5" cy="304.2" r="3.1" fill="none" stroke="#4290c8" stroke-width="0.85"/>
<line x1="389" y1="321.84" x2="392.5" y2="321.84" stroke="#5e5e5e" stroke-width="0.9"/>
<text x="361.53" y="324.14" font-size="10.3" textLength="23.87" lengthAdjust="spacingAndGlyphs">RAIN</text>
<path d="M436.5 321.84H446.4M436.5 320.34V323.34M446.4 320.34V323.34" stroke="#62a2d3" stroke-width="0.8" fill="none"/>
<circle cx="441.4" cy="321.84" r="3.2" fill="#1b71ae"/>
<line x1="389" y1="339.48" x2="392.5" y2="339.48" stroke="#5e5e5e" stroke-width="0.9"/>
<text x="360.97" y="341.78" font-size="10.3" textLength="24.43" lengthAdjust="spacingAndGlyphs">ITIH3</text>
<path d="M434.3 339.48H445.4M434.3 337.98V340.98M445.4 337.98V340.98" stroke="#62a2d3" stroke-width="0.8" fill="none"/>
<circle cx="439.8" cy="339.48" r="3.2" fill="#1b71ae"/>
<line x1="389" y1="357.13" x2="392.5" y2="357.13" stroke="#5e5e5e" stroke-width="0.9"/>
<text x="364.86" y="359.43" font-size="10.3" textLength="20.54" lengthAdjust="spacingAndGlyphs">CO9</text>
<path d="M434.3 357.13H445.1M434.3 355.63V358.63M445.1 355.63V358.63" stroke="#62a2d3" stroke-width="0.8" fill="none"/>
<circle cx="439.4" cy="357.13" r="3.2" fill="#1b71ae"/>
<line x1="389" y1="374.77" x2="392.5" y2="374.77" stroke="#5e5e5e" stroke-width="0.9"/>
<text x="354.31" y="377.07" font-size="10.3" textLength="31.09" lengthAdjust="spacingAndGlyphs">ADIPO</text>
<path d="M433.2 374.77H445.5M433.2 373.27V376.27M445.5 373.27V376.27" stroke="#62a2d3" stroke-width="0.8" fill="none"/>
<circle cx="439.4" cy="374.77" r="3.2" fill="#1b71ae"/>
<line x1="389" y1="392.41" x2="392.5" y2="392.41" stroke="#5e5e5e" stroke-width="0.9"/>
<text x="357.09" y="394.71" font-size="10.3" textLength="28.31" lengthAdjust="spacingAndGlyphs">A2MG</text>
<path d="M432.6 392.41H445.5M432.6 390.91V393.91M445.5 390.91V393.91" stroke="#62a2d3" stroke-width="0.8" fill="none"/>
<circle cx="439.2" cy="392.41" r="3.2" fill="#1b71ae"/>
<line x1="389" y1="410.06" x2="392.5" y2="410.06" stroke="#5e5e5e" stroke-width="0.9"/>
<text x="361.82" y="412.36" font-size="10.3" textLength="6.66" lengthAdjust="spacingAndGlyphs">A</text>
<path class="g1" transform="matrix(0.004878 0 0 -0.005029 367.8 412.36)" d="M515 0L515 1237L197 1010L197 1180L530 1409L696 1409L696 0Z"/>
<text x="372.63" y="412.36" font-size="10.3" textLength="12.77" lengthAdjust="spacingAndGlyphs">AT</text>
<path d="M430.4 410.06H442.6M430.4 408.56V411.56M442.6 408.56V411.56" stroke="#62a2d3" stroke-width="0.8" fill="none"/>
<circle cx="436.4" cy="410.06" r="3.2" fill="#1b71ae"/>
<line x1="389" y1="427.7" x2="392.5" y2="427.7" stroke="#5e5e5e" stroke-width="0.9"/>
<text x="359.85" y="430" font-size="10.3" textLength="25.55" lengthAdjust="spacingAndGlyphs">A2GL</text>
<path d="M430.4 427.7H442.6M430.4 426.2V429.2M442.6 426.2V429.2" stroke="#62a2d3" stroke-width="0.8" fill="none"/>
<circle cx="436.1" cy="427.7" r="3.2" fill="#1b71ae"/>
<text x="625.55" y="7.7" text-anchor="middle" font-size="10.2" textLength="42.5" lengthAdjust="spacingAndGlyphs">Hepatitis</text>
<line x1="623.8" y1="11.5" x2="623.8" y2="197.5" stroke="#333333" stroke-width="0.9" stroke-dasharray="4.7 2.35" stroke-dashoffset="1.45"/>
<rect x="566.5" y="11.5" width="118" height="186" fill="none" stroke="#5e5e5e" stroke-width="0.9"/>
<line x1="571.5" y1="197.5" x2="571.5" y2="200.9" stroke="#5e5e5e" stroke-width="0.9"/>
<text x="564.91" y="211.4" font-size="8.7" textLength="8.13" lengthAdjust="spacingAndGlyphs">0.</text>
<path class="g1" transform="matrix(0.004758 0 0 -0.004248 572.38 211.4)" d="M515 0L515 1237L197 1010L197 1180L530 1409L696 1409L696 0Z"/>
<line x1="623.8" y1="197.5" x2="623.8" y2="200.9" stroke="#5e5e5e" stroke-width="0.9"/>
<path class="g1" transform="matrix(0.004758 0 0 -0.004248 616.55 211.4)" d="M515 0L515 1237L197 1010L197 1180L530 1409L696 1409L696 0Z"/>
<text x="621.26" y="211.4" font-size="8.7" textLength="8.13" lengthAdjust="spacingAndGlyphs">.0</text>
<line x1="676.3" y1="197.5" x2="676.3" y2="200.9" stroke="#5e5e5e" stroke-width="0.9"/>
<path class="g1" transform="matrix(0.004758 0 0 -0.004248 666.34 211.4)" d="M515 0L515 1237L197 1010L197 1180L530 1409L696 1409L696 0Z"/>
<text x="671.05" y="211.4" font-size="8.7" textLength="13.55" lengthAdjust="spacingAndGlyphs">0.0</text>
<text x="625.5" y="227.5" text-anchor="middle" font-size="9.9">HR (95% CI)</text>
<line x1="563" y1="21.55" x2="566.5" y2="21.55" stroke="#5e5e5e" stroke-width="0.9"/>
<text x="535.83" y="23.85" font-size="10.3" textLength="23.87" lengthAdjust="spacingAndGlyphs">RAIN</text>
<path d="M644.8 21.55H673.2M644.8 20.05V23.05M673.2 20.05V23.05" stroke="#e37a6e" stroke-width="0.8" fill="none"/>
<circle cx="659" cy="21.55" r="3.2" fill="#d0382a"/>
<line x1="563" y1="38.34" x2="566.5" y2="38.34" stroke="#5e5e5e" stroke-width="0.9"/>
<text x="539.72" y="40.64" font-size="10.3" textLength="19.98" lengthAdjust="spacingAndGlyphs">JMY</text>
<path d="M634.6 38.34H660.6M634.6 36.84V39.84M660.6 36.84V39.84" stroke="#e37a6e" stroke-width="0.8" fill="none"/>
<circle cx="647.4" cy="38.34" r="3.2" fill="#d0382a"/>
<line x1="563" y1="55.14" x2="566.5" y2="55.14" stroke="#5e5e5e" stroke-width="0.9"/>
<text x="531.39" y="57.44" font-size="10.3" textLength="28.31" lengthAdjust="spacingAndGlyphs">A2MG</text>
<path d="M633.5 55.14H646.7M633.5 53.64V56.64M646.7 53.64V56.64" stroke="#e37a6e" stroke-width="0.8" fill="none"/>
<circle cx="640.4" cy="55.14" r="3.2" fill="#d0382a"/>
<line x1="563" y1="71.93" x2="566.5" y2="71.93" stroke="#5e5e5e" stroke-width="0.9"/>
<text x="528.61" y="74.23" font-size="10.3" textLength="31.09" lengthAdjust="spacingAndGlyphs">IGHG3</text>
<path d="M628.4 71.93H648.9M628.4 70.43V73.43M648.9 70.43V73.43" stroke="#e37a6e" stroke-width="0.8" fill="none"/>
<circle cx="638.7" cy="71.93" r="3.1" fill="none" stroke="#e06a5d" stroke-width="0.85"/>
<line x1="563" y1="88.73" x2="566.5" y2="88.73" stroke="#5e5e5e" stroke-width="0.9"/>
<text x="533.89" y="91.03" font-size="10.3" textLength="21.66" lengthAdjust="spacingAndGlyphs">IGLL</text>
<path class="g1" transform="matrix(0.004878 0 0 -0.005029 554.87 91.03)" d="M515 0L515 1237L197 1010L197 1180L530 1409L696 1409L696 0Z"/>
<path d="M628.8 88.73H646.9M628.8 87.23V90.23M646.9 87.23V90.23" stroke="#e37a6e" stroke-width="0.8" fill="none"/>
<circle cx="637.9" cy="88.73" r="3.1" fill="none" stroke="#e06a5d" stroke-width="0.85"/>
<line x1="563" y1="105.52" x2="566.5" y2="105.52" stroke="#5e5e5e" stroke-width="0.9"/>
<text x="539.16" y="107.82" font-size="10.3" textLength="20.54" lengthAdjust="spacingAndGlyphs">CO7</text>
<path d="M627.1 105.52H642.7M627.1 104.02V107.02M642.7 104.02V107.02" stroke="#e37a6e" stroke-width="0.8" fill="none"/>
<circle cx="634.8" cy="105.52" r="3.1" fill="none" stroke="#e06a5d" stroke-width="0.85"/>
<line x1="563" y1="122.32" x2="566.5" y2="122.32" stroke="#5e5e5e" stroke-width="0.9"/>
<text x="532.5" y="124.62" font-size="10.3" textLength="27.2" lengthAdjust="spacingAndGlyphs">HPTR</text>
<path d="M616.5 122.32H619.5M616.5 120.82V123.82M619.5 120.82V123.82" stroke="#62a2d3" stroke-width="0.8" fill="none"/>
<circle cx="617.8" cy="122.32" r="3.2" fill="#1b71ae"/>
<line x1="563" y1="139.11" x2="566.5" y2="139.11" stroke="#5e5e5e" stroke-width="0.9"/>
<text x="532.5" y="141.41" font-size="10.3" textLength="27.2" lengthAdjust="spacingAndGlyphs">THRB</text>
<path d="M610.5 139.11H621.25M610.5 137.61V140.61M621.25 137.61V140.61" stroke="#62a2d3" stroke-width="0.8" fill="none"/>
<circle cx="615.7" cy="139.11" r="3.1" fill="none" stroke="#4290c8" stroke-width="0.85"/>
<line x1="563" y1="155.91" x2="566.5" y2="155.91" stroke="#5e5e5e" stroke-width="0.9"/>
<text x="538.04" y="158.21" font-size="10.3" textLength="21.66" lengthAdjust="spacingAndGlyphs">IBP3</text>
<path d="M611.2 155.91H620.4M611.2 154.41V157.41M620.4 154.41V157.41" stroke="#62a2d3" stroke-width="0.8" fill="none"/>
<circle cx="615.5" cy="155.91" r="3.2" fill="#1b71ae"/>
<line x1="563" y1="172.7" x2="566.5" y2="172.7" stroke="#5e5e5e" stroke-width="0.9"/>
<text x="540.82" y="175" font-size="10.3" textLength="18.88" lengthAdjust="spacingAndGlyphs">ALS</text>
<path d="M608.75 172.7H620.9M608.75 171.2V174.2M620.9 171.2V174.2" stroke="#62a2d3" stroke-width="0.8" fill="none"/>
<circle cx="614.8" cy="172.7" r="3.1" fill="none" stroke="#4290c8" stroke-width="0.85"/>
<line x1="563" y1="189.5" x2="566.5" y2="189.5" stroke="#5e5e5e" stroke-width="0.9"/>
<text x="530.01" y="191.8" font-size="10.3" textLength="25.55" lengthAdjust="spacingAndGlyphs">KLKB</text>
<path class="g1" transform="matrix(0.004878 0 0 -0.005029 554.87 191.8)" d="M515 0L515 1237L197 1010L197 1180L530 1409L696 1409L696 0Z"/>
<path d="M607.4 189.5H620.4M607.4 188V191M620.4 188V191" stroke="#62a2d3" stroke-width="0.8" fill="none"/>
<circle cx="614" cy="189.5" r="3.1" fill="none" stroke="#4290c8" stroke-width="0.85"/>
<text x="625.85" y="251.9" text-anchor="middle" font-size="10.2" textLength="65.1" lengthAdjust="spacingAndGlyphs">Renal disease</text>
<line x1="624.45" y1="258.5" x2="624.45" y2="391.5" stroke="#333333" stroke-width="0.9" stroke-dasharray="4.7 2.35" stroke-dashoffset="5.55"/>
<rect x="567" y="258.5" width="117.5" height="133" fill="none" stroke="#5e5e5e" stroke-width="0.9"/>
<line x1="572.5" y1="391.5" x2="572.5" y2="394.9" stroke="#5e5e5e" stroke-width="0.9"/>
<text x="565.91" y="405.4" font-size="8.7" textLength="8.13" lengthAdjust="spacingAndGlyphs">0.</text>
<path class="g1" transform="matrix(0.004758 0 0 -0.004248 573.38 405.4)" d="M515 0L515 1237L197 1010L197 1180L530 1409L696 1409L696 0Z"/>
<line x1="624.45" y1="391.5" x2="624.45" y2="394.9" stroke="#5e5e5e" stroke-width="0.9"/>
<path class="g1" transform="matrix(0.004758 0 0 -0.004248 617.2 405.4)" d="M515 0L515 1237L197 1010L197 1180L530 1409L696 1409L696 0Z"/>
<text x="621.91" y="405.4" font-size="8.7" textLength="8.13" lengthAdjust="spacingAndGlyphs">.0</text>
<line x1="676.5" y1="391.5" x2="676.5" y2="394.9" stroke="#5e5e5e" stroke-width="0.9"/>
<path class="g1" transform="matrix(0.004758 0 0 -0.004248 666.54 405.4)" d="M515 0L515 1237L197 1010L197 1180L530 1409L696 1409L696 0Z"/>
<text x="671.25" y="405.4" font-size="8.7" textLength="13.55" lengthAdjust="spacingAndGlyphs">0.0</text>
<text x="625.8" y="421.5" text-anchor="middle" font-size="9.9">HR (95% CI)</text>
<line x1="563.5" y1="267.9" x2="567" y2="267.9" stroke="#5e5e5e" stroke-width="0.9"/>
<text x="531.39" y="270.2" font-size="10.3" textLength="28.31" lengthAdjust="spacingAndGlyphs">FNIP2</text>
<path d="M631.5 267.9H676.6M631.5 266.4V269.4M676.6 266.4V269.4" stroke="#e37a6e" stroke-width="0.8" fill="none"/>
<circle cx="653.7" cy="267.9" r="3.1" fill="none" stroke="#e06a5d" stroke-width="0.85"/>
<line x1="563.5" y1="284.2" x2="567" y2="284.2" stroke="#5e5e5e" stroke-width="0.9"/>
<text x="532.5" y="286.5" font-size="10.3" textLength="27.2" lengthAdjust="spacingAndGlyphs">CFAD</text>
<path d="M629.5 284.2H677.5M629.5 282.7V285.7M677.5 282.7V285.7" stroke="#e37a6e" stroke-width="0.8" fill="none"/>
<circle cx="653.7" cy="284.2" r="3.1" fill="none" stroke="#e06a5d" stroke-width="0.85"/>
<line x1="563.5" y1="300.5" x2="567" y2="300.5" stroke="#5e5e5e" stroke-width="0.9"/>
<text x="531.39" y="302.8" font-size="10.3" textLength="28.31" lengthAdjust="spacingAndGlyphs">SAMP</text>
<path d="M632.3 300.5H667.6M632.3 299V302M667.6 299V302" stroke="#e37a6e" stroke-width="0.8" fill="none"/>
<circle cx="649.75" cy="300.5" r="3.1" fill="none" stroke="#e06a5d" stroke-width="0.85"/>
<line x1="563.5" y1="316.8" x2="567" y2="316.8" stroke="#5e5e5e" stroke-width="0.9"/>
<text x="533.05" y="319.1" font-size="10.3" textLength="26.65" lengthAdjust="spacingAndGlyphs">PEDF</text>
<path d="M626.3 316.8H647.4M626.3 315.3V318.3M647.4 315.3V318.3" stroke="#e37a6e" stroke-width="0.8" fill="none"/>
<circle cx="637" cy="316.8" r="3.1" fill="none" stroke="#e06a5d" stroke-width="0.85"/>
<line x1="563.5" y1="333.1" x2="567" y2="333.1" stroke="#5e5e5e" stroke-width="0.9"/>
<text x="526.38" y="335.4" font-size="10.3" textLength="33.32" lengthAdjust="spacingAndGlyphs">APOA4</text>
<path d="M624.5 333.1H647.1M624.5 331.6V334.6M647.1 331.6V334.6" stroke="#e37a6e" stroke-width="0.8" fill="none"/>
<circle cx="636.1" cy="333.1" r="3.1" fill="none" stroke="#e06a5d" stroke-width="0.85"/>
<line x1="563.5" y1="349.4" x2="567" y2="349.4" stroke="#5e5e5e" stroke-width="0.9"/>
<text x="534.46" y="351.7" font-size="10.3" textLength="15.54" lengthAdjust="spacingAndGlyphs">RM</text>
<path class="g1" transform="matrix(0.004878 0 0 -0.005029 549.31 351.7)" d="M515 0L515 1237L197 1010L197 1180L530 1409L696 1409L696 0Z"/>
<text x="554.14" y="351.7" font-size="10.3" textLength="5.56" lengthAdjust="spacingAndGlyphs">9</text>
<path d="M607.7 349.4H621.6M607.7 347.9V350.9M621.6 347.9V350.9" stroke="#62a2d3" stroke-width="0.8" fill="none"/>
<circle cx="614.6" cy="349.4" r="3.1" fill="none" stroke="#4290c8" stroke-width="0.85"/>
<line x1="563.5" y1="365.7" x2="567" y2="365.7" stroke="#5e5e5e" stroke-width="0.9"/>
<text x="528.9" y="368" font-size="10.3" textLength="26.66" lengthAdjust="spacingAndGlyphs">APOL</text>
<path class="g1" transform="matrix(0.004878 0 0 -0.005029 554.87 368)" d="M515 0L515 1237L197 1010L197 1180L530 1409L696 1409L696 0Z"/>
<path d="M606.6 365.7H621.9M606.6 364.2V367.2M621.9 364.2V367.2" stroke="#62a2d3" stroke-width="0.8" fill="none"/>
<circle cx="614.1" cy="365.7" r="3.1" fill="none" stroke="#4290c8" stroke-width="0.85"/>
<line x1="563.5" y1="382" x2="567" y2="382" stroke="#5e5e5e" stroke-width="0.9"/>
<text x="530.28" y="384.3" font-size="10.3" textLength="29.42" lengthAdjust="spacingAndGlyphs">APOM</text>
<path d="M607.5 382H620.2M607.5 380.5V383.5M620.2 380.5V383.5" stroke="#62a2d3" stroke-width="0.8" fill="none"/>
<circle cx="613.75" cy="382" r="3.2" fill="#1b71ae"/>
<text x="557.6" y="441.4" font-size="10" textLength="37" lengthAdjust="spacingAndGlyphs">Positive</text>
<text x="626.1" y="441.4" font-size="10" textLength="42.4" lengthAdjust="spacingAndGlyphs">Negative</text>
<line x1="557.9" y1="450.6" x2="567.9" y2="450.6" stroke="#e37a6e" stroke-width="0.8"/>
<circle cx="562.9" cy="450.6" r="2.9" fill="#d0382a"/>
<line x1="557.9" y1="464.3" x2="567.9" y2="464.3" stroke="#e37a6e" stroke-width="0.8"/>
<circle cx="562.9" cy="464.3" r="2.9" fill="none" stroke="#e06a5d" stroke-width="0.85"/>
<line x1="626.7" y1="451.2" x2="636.7" y2="451.2" stroke="#62a2d3" stroke-width="0.8"/>
<circle cx="631.7" cy="451.2" r="2.9" fill="#1b71ae"/>
<line x1="626.7" y1="465.2" x2="636.7" y2="465.2" stroke="#62a2d3" stroke-width="0.8"/>
<circle cx="631.7" cy="465.2" r="2.9" fill="none" stroke="#4290c8" stroke-width="0.85"/>
<text x="571.9" y="453.5" font-size="10" font-style="italic">Q</text>
<text x="583" y="453.3" font-size="8.4">&lt;</text>
<text x="590.4" y="453.5" font-size="10" textLength="22.6" lengthAdjust="spacingAndGlyphs">0.05</text>
<text x="571.7" y="467.8" font-size="10" font-style="italic">P</text>
<text x="581.4" y="467.6" font-size="8.4">&lt;</text>
<text x="588.4" y="467.8" font-size="10" textLength="22.6" lengthAdjust="spacingAndGlyphs">0.05</text>
<text x="640.3" y="454.5" font-size="10" font-style="italic">Q</text>
<text x="651.4" y="454.3" font-size="8.4">&lt;</text>
<text x="659.4" y="454.5" font-size="10" textLength="22.6" lengthAdjust="spacingAndGlyphs">0.05</text>
<text x="640.3" y="468.7" font-size="10" font-style="italic">P</text>
<text x="649.8" y="468.5" font-size="8.4">&lt;</text>
<text x="657.4" y="468.7" font-size="10" textLength="21.6" lengthAdjust="spacingAndGlyphs">0.05</text>
</svg>
</body></html>
